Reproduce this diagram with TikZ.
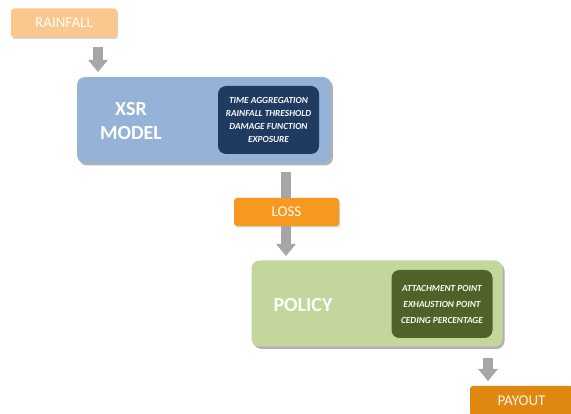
\documentclass[tikz,border=0pt]{standalone}
\usepackage{fontspec}
\setmainfont{Carlito}
\usetikzlibrary{arrows.meta,shadows}
\definecolor{rainfill}{HTML}{FAC88C}
\definecolor{lossfill}{HTML}{F7991F}
\definecolor{payfill}{HTML}{E0870F}
\definecolor{xsrfill}{HTML}{95B3D7}
\definecolor{xsrin}{HTML}{203B60}
\definecolor{polfill}{HTML}{C3D69B}
\definecolor{polin}{HTML}{4F6228}
\definecolor{arrowgray}{HTML}{A6A6A6}
\tikzset{
  smallbox/.style={rounded corners=3pt, inner sep=0pt, text=white,
    font=\fontsize{15}{17}\selectfont, drop shadow={shadow xshift=1pt, shadow yshift=-1.5pt, opacity=0.35}},
  bigbox/.style={rounded corners=8pt, inner sep=0pt,
    drop shadow={shadow xshift=2pt, shadow yshift=-2.5pt, opacity=0.5, fill=black!60}},
  innerbox/.style={rounded corners=8pt, inner sep=0pt, minimum width=101pt, minimum height=68pt},
  title/.style={text=white, font=\fontsize{20}{24}\selectfont\bfseries, align=center},
  blockarrow/.style={draw=arrowgray, line width=10pt, -{Triangle[width=19pt,length=12pt]}},
  blockshaft/.style={draw=arrowgray, line width=10pt}
}
\begin{document}
\begin{tikzpicture}[x=1pt,y=-1pt]
\useasboundingbox (0,0) rectangle (571,414);
\clip (0,0) rectangle (571,414);
% boxes
\node[smallbox, fill=rainfill, minimum width=106pt, minimum height=29pt] (rain) at (64,23) {RAINFALL};
\node[bigbox, fill=xsrfill, minimum width=254pt, minimum height=86pt] (xsr) at (204,120) {};
\node[innerbox, fill=xsrin, text=white!92!xsrfill, align=center,
  font=\fontsize{9.3}{13.3}\selectfont\bfseries\itshape] (xsrin) at (268.5,120)
  {TIME AGGREGATION\\RAINFALL THRESHOLD\\DAMAGE FUNCTION\\EXPOSURE};
\node[title] (xsrtitle) at (131,121) {XSR\\MODEL};
\node[smallbox, fill=lossfill, minimum width=105pt, minimum height=28pt] (loss) at (286.5,212) {LOSS};
\node[bigbox, fill=polfill, minimum width=251pt, minimum height=86pt] (pol) at (377,303.5) {};
\node[innerbox, fill=polin, text=white!92!polfill, align=center,
  font=\fontsize{9.3}{16}\selectfont\bfseries\itshape] (polin) at (442,304)
  {ATTACHMENT POINT\\EXHAUSTION POINT\\CEDING PERCENTAGE};
\node[title] (poltitle) at (303,305) {POLICY};
\node[smallbox, fill=payfill, minimum width=103pt, minimum height=30pt, text=white!90!payfill] (pay) at (521.5,401) {PAYOUT};
% connectors
\coordinate (a1s) at (98,47);
\coordinate (a1e) at (98,72);
\coordinate (a2s) at (285.5,172);
\coordinate (a3e) at (286,256);
\coordinate (a4s) at (488,358);
\coordinate (a4e) at (488,381);
\draw[blockarrow] (a1s) -- (a1e);
\draw[blockshaft] (a2s) -- (a2s |- loss.north);
\draw[blockarrow] (a3e |- loss.south) -- (a3e);
\draw[blockarrow] (a4s) -- (a4e);
\end{tikzpicture}
\end{document}
